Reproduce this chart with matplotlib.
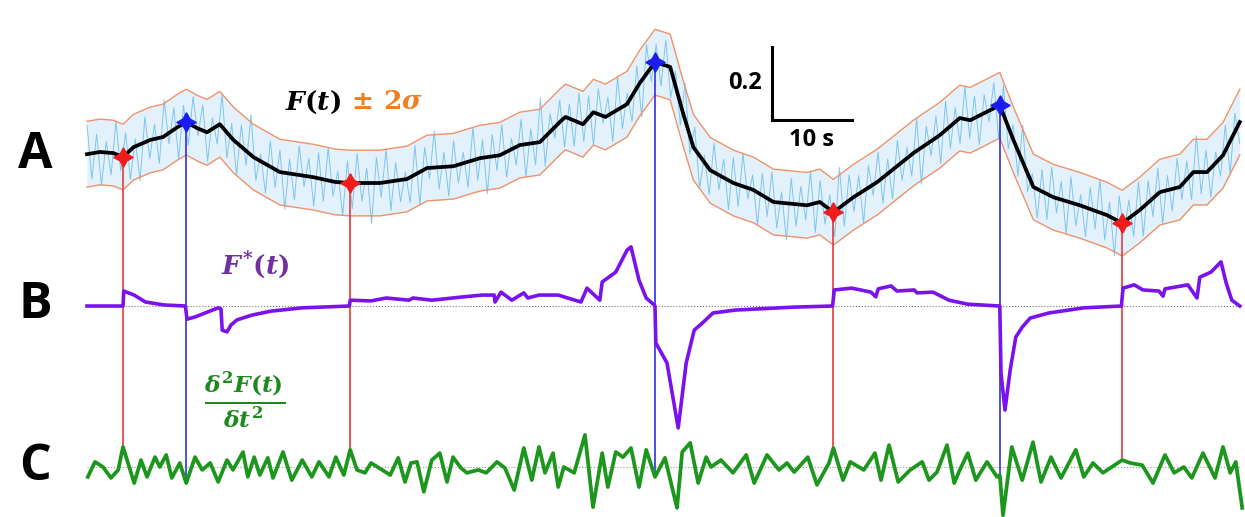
import numpy as np
import matplotlib
matplotlib.use('Agg')
import matplotlib.pyplot as plt

plt.rcParams['mathtext.fontset'] = 'custom'
plt.rcParams['mathtext.it'] = 'DejaVu Serif:italic:bold'
plt.rcParams['mathtext.rm'] = 'DejaVu Serif:bold'
plt.rcParams['mathtext.bf'] = 'DejaVu Serif:bold'

# A: smoothed fluorescence F(t), time in s
t_F = [0.0, 1.6, 3.3, 4.5, 5.8, 7.9, 9.5, 11.3, 12.4, 13.8, 15.0, 16.6, 18.3, 20.8,
       24.1, 28.3, 31.0, 32.9, 36.6, 40.0, 42.5, 45.8, 49.1, 51.6, 54.1, 56.6, 59.1,
       59.8, 62.0, 63.3, 64.8, 67.5, 69.1, 71.0, 72.9, 74.5, 75.8, 77.9, 80.8, 83.3,
       85.8, 90.0, 91.6, 93.3, 95.8, 98.8, 103.3, 106.6, 109.1, 110.4, 114.1, 115.8,
       118.3, 120.8, 124.1, 127.5, 129.4, 131.6, 134.1, 136.6, 138.3, 140.0, 142.0, 144.1]
F = [0.208, 0.214, 0.211, 0.200, 0.227, 0.247, 0.255, 0.282, 0.296, 0.279, 0.268, 0.290,
     0.247, 0.200, 0.159, 0.145, 0.132, 0.129, 0.129, 0.140, 0.170, 0.175, 0.197, 0.205,
     0.233, 0.241, 0.296, 0.310, 0.290, 0.323, 0.310, 0.345, 0.403, 0.460, 0.447, 0.321,
     0.227, 0.164, 0.129, 0.110, 0.077, 0.068, 0.077, 0.049, 0.090, 0.132, 0.211, 0.260,
     0.307, 0.301, 0.342, 0.247, 0.118, 0.090, 0.068, 0.041, 0.019, 0.055, 0.104, 0.118,
     0.159, 0.159, 0.205, 0.296]
two_sigma = 0.09

# raw-signal scatter around F(t)
raw_noise = [
    0.08, -0.07, 0.05, -0.09, 0.03, -0.06, 0.09, -0.04, 0.06, -0.08, 0.02, -0.10, 0.07, -0.05, 0.04, -0.07, 0.10, -0.03, 0.06, -0.09,
    0.05, -0.06, 0.08, -0.02, 0.07, -0.08, 0.03, -0.05, 0.09, -0.07, 0.04, -0.09, 0.06, -0.04, 0.11, -0.06, 0.02, -0.08, 0.07, -0.05,
    0.06, -0.10, 0.04, -0.07, 0.08, -0.03, 0.05, -0.08, 0.07, -0.06, 0.09, -0.04, 0.03, -0.09, 0.06, -0.07, 0.08, -0.05, 0.04, -0.11,
    0.07, -0.04, 0.09, -0.08, 0.05, -0.06, 0.02, -0.07, 0.08, -0.09, 0.06, -0.03, 0.10, -0.06, 0.04, -0.08, 0.07, -0.05, 0.03, -0.07,
    0.09, -0.06, 0.05, -0.10, 0.06, -0.04, 0.08, -0.07, 0.03, -0.05, 0.07, -0.09, 0.04, -0.06, 0.12, -0.08, 0.05, -0.03, 0.06, -0.08,
    0.04, -0.07, 0.08, -0.05, 0.06, -0.09, 0.07, -0.02, 0.05, -0.08, 0.09, -0.06, 0.03, -0.07, 0.06, -0.10, 0.08, -0.04, 0.05, -0.06,
    0.07, -0.08, 0.04, -0.06, 0.10, -0.05, 0.06, -0.09, 0.02, -0.07, 0.08, -0.04, 0.05, -0.08, 0.07, -0.06, 0.09, -0.03, 0.04, -0.09,
    0.06, -0.05, 0.08, -0.07, 0.03, -0.10, 0.07, -0.06, 0.05, -0.04, 0.09, -0.08, 0.06, -0.05, 0.04, -0.07, 0.11, -0.06, 0.07, -0.04,
    0.05, -0.09, 0.06, -0.03, 0.08, -0.07, 0.04, -0.08, 0.07, -0.05, 0.03, -0.06, 0.09, -0.10, 0.05, -0.04, 0.06, -0.08, 0.08, -0.06,
    0.04, -0.07, 0.09, -0.05, 0.06, -0.08, 0.05, -0.03, 0.07, -0.09, 0.08, -0.06, 0.04, -0.07, 0.10, -0.05, 0.03, -0.08, 0.06, -0.07,
    0.08, -0.04, 0.05, -0.09, 0.07, -0.06, 0.03, -0.08, 0.06, -0.05, 0.09, -0.07, 0.04, -0.10, 0.07, -0.03, 0.05, -0.06, 0.08, -0.08,
    0.06, -0.05, 0.07, -0.09, 0.04, -0.06, 0.08, -0.04, 0.05, -0.07, 0.10, -0.06, 0.06, -0.08, 0.03, -0.05, 0.07, -0.09, 0.05, -0.06]

# B: F*(t)
t_B = [0.0, 4.5, 4.6, 5.9, 7.3, 9.6, 12.3, 12.5, 13.5, 16.4, 16.75, 16.9, 17.5, 18.0,
       18.75, 20.6, 23.0, 26.9, 32.8, 32.9, 35.5, 37.4, 40.25, 40.75, 43.1, 47.0, 49.4,
       50.9, 51.0, 51.75, 53.1, 54.6, 55.1, 56.5, 58.9, 61.75, 62.5, 64.1, 64.4, 66.1,
       67.5, 68.0, 69.0, 69.9, 70.9, 71.0, 71.1, 72.5, 73.9, 74.9, 75.9, 76.9, 78.25,
       81.1, 88.4, 93.2, 93.4, 95.6, 98.0, 98.6, 98.9, 100.5, 101.25, 103.4, 103.75,
       105.75, 107.75, 110.1, 114.1, 114.25, 114.75, 115.4, 116.1, 116.9, 117.9, 120.25,
       124.6, 129.3, 129.5, 130.9, 132.0, 134.0, 134.5, 134.75, 137.6, 138.75, 139.1,
       140.5, 141.75, 142.4, 143.1, 144.1]
F_star = [0.0, 0.0, 0.041, 0.030, 0.011, 0.003, 0.0, -0.036, -0.030, -0.005, -0.008,
          -0.066, -0.071, -0.052, -0.038, -0.025, -0.014, -0.005, 0.0, 0.016, 0.014, 0.022,
          0.016, 0.022, 0.016, 0.025, 0.030, 0.030, 0.011, 0.038, 0.016, 0.036, 0.022, 0.030,
          0.030, 0.011, 0.049, 0.016, 0.066, 0.093, 0.153, 0.162, 0.071, 0.022, 0.003, 0.0,
          -0.101, -0.156, -0.334, -0.156, -0.066, -0.047, -0.019, -0.011, -0.003, 0.0, 0.044,
          0.049, 0.038, 0.025, 0.047, 0.055, 0.041, 0.044, 0.036, 0.038, 0.016, 0.005, 0.0,
          -0.184, -0.285, -0.175, -0.085, -0.058, -0.033, -0.019, -0.005, 0.0, 0.049, 0.058,
          0.044, 0.041, 0.027, 0.047, 0.058, 0.022, 0.079, 0.093, 0.121, 0.063, 0.016, 0.0]

# C: second derivative of F(t)
t_C = [0.1, 1.0, 2.0, 3.0, 3.9, 4.5, 5.9, 6.75, 7.5, 8.5, 9.1, 9.9, 10.6, 11.6, 12.4,
       13.5, 14.4, 15.4, 16.4, 17.5, 18.25, 19.5, 20.1, 20.9, 21.6, 22.6, 23.25, 24.5,
       25.6, 26.9, 28.1, 29.0, 30.25, 31.1, 32.1, 32.9, 33.75, 34.75, 35.5, 36.9, 37.9,
       38.9, 39.75, 40.5, 41.25, 42.1, 43.1, 44.1, 45.0, 45.75, 46.75, 47.5, 48.9, 49.9,
       51.25, 52.25, 53.4, 54.6, 55.6, 56.5, 57.25, 58.25, 58.9, 59.6, 60.9, 62.25, 63.25,
       64.4, 65.1, 66.1, 67.0, 68.0, 69.0, 69.9, 71.0, 72.25, 73.75, 74.4, 75.4, 76.4,
       77.4, 78.0, 79.25, 80.75, 82.4, 83.4, 85.0, 86.5, 87.5, 88.4, 90.1, 91.25, 92.75,
       93.3, 94.5, 95.4, 97.1, 98.5, 99.25, 100.25, 101.4, 102.9, 104.4, 105.25, 106.25,
       107.5, 108.4, 109.1, 110.1, 111.1, 112.5, 113.75, 114.1, 114.5, 115.6, 116.9,
       118.25, 119.25, 120.5, 121.75, 123.6, 124.6, 125.75, 127.0, 129.4, 130.4, 131.9,
       133.25, 134.75, 135.9, 137.1, 138.1, 139.5, 141.0, 142.0, 142.9, 143.6, 144.4]
d2F = [-0.027, 0.014, 0.0, -0.030, -0.008, 0.055, -0.044, 0.019, -0.027, 0.027, 0.0,
       0.033, -0.030, 0.011, -0.044, 0.027, -0.008, 0.011, -0.041, 0.019, -0.008, 0.041,
       -0.027, 0.027, -0.022, 0.025, -0.030, 0.041, -0.036, 0.019, -0.027, 0.014, -0.027,
       0.027, -0.022, 0.047, -0.008, -0.016, 0.011, -0.008, -0.022, 0.025, -0.041, 0.011,
       0.014, -0.068, 0.019, 0.038, -0.041, 0.027, -0.003, -0.016, -0.008, -0.016, 0.014,
       -0.003, -0.063, 0.052, -0.036, 0.055, -0.016, 0.038, -0.055, 0.0, -0.016, 0.088,
       -0.110, 0.038, -0.055, 0.041, 0.027, 0.052, -0.055, 0.047, -0.027, 0.025, -0.112,
       0.041, 0.066, -0.044, 0.027, 0.0, 0.019, -0.016, 0.033, -0.044, 0.033, -0.008,
       0.011, -0.014, 0.027, -0.049, 0.011, 0.052, -0.036, 0.014, -0.008, 0.038, -0.036,
       0.060, -0.041, -0.008, 0.014, -0.036, -0.014, 0.060, -0.044, -0.008, 0.038, -0.036,
       0.014, -0.027, -0.022, -0.132, 0.055, -0.036, 0.068, -0.041, 0.027, -0.030, 0.047,
       -0.027, 0.011, -0.016, 0.019, 0.011, 0.005, -0.044, 0.033, -0.016, 0.0, -0.030,
       0.038, -0.030, 0.055, -0.016, 0.014, -0.112]

# detected events (s)
onsets = [4.5, 32.9, 93.3, 129.4]
peaks = [12.4, 71.0, 114.1]

# vertical placement of the three panels
off_A, off_B, off_C = 0.786, 0.578, 0.137

t_F = np.array(t_F)
F = np.array(F)
t_raw = np.linspace(t_F[0], t_F[-1], len(raw_noise))
raw = np.interp(t_raw, t_F, F) + np.array(raw_noise)

fig = plt.figure(figsize=(12.45, 5.17), dpi=100)
ax = fig.add_axes([0, 0, 1, 1])
ax.set_xlim(-10.875, 144.75)
ax.set_ylim(0, 1.4164)
ax.axis('off')

# panel A
ax.fill_between(t_F, off_A + F - two_sigma, off_A + F + two_sigma, color='#e2f1fb', lw=0, zorder=1)
ax.plot(t_raw, off_A + raw, color='#6dbdec', lw=0.7, alpha=0.85, zorder=2)
ax.plot(t_F, off_A + F + two_sigma, color='#f0926a', lw=1.0, zorder=3)
ax.plot(t_F, off_A + F - two_sigma, color='#f0926a', lw=1.0, zorder=3)
ax.plot(t_F, off_A + F, color='black', lw=2.7, zorder=4, solid_joinstyle='round')

# baselines for B and C
ax.plot([t_F[0], t_F[-1]], [off_B, off_B], color='#777777', lw=0.8, ls=':', zorder=2)
ax.plot([t_F[0], t_F[-1]], [off_C, off_C], color='#999999', lw=0.8, ls=':', zorder=2)

# event lines from A down to C
F_on = np.interp(onsets, t_F, F)
F_pk = np.interp(peaks, t_F, F)
ax.vlines(onsets, off_C + np.interp(onsets, t_C, d2F), off_A + F_on, color='#e83a3a', lw=1.2, zorder=3)
ax.vlines(peaks, off_C + np.interp(peaks, t_C, d2F), off_A + F_pk, color='#3030e0', lw=1.2, zorder=3)

ax.plot(t_B, off_B + np.array(F_star), color='#7a12ee', lw=2.6, zorder=5, solid_joinstyle='round')
ax.plot(t_C, off_C + np.array(d2F), color='#1d961d', lw=2.7, zorder=5, solid_joinstyle='round')

ax.plot(onsets, off_A + F_on, ls='none', marker=(4, 1, 0), ms=14, color='#f01c1c', zorder=6)
ax.plot(peaks, off_A + F_pk, ls='none', marker=(4, 1, 0), ms=14, color='#1c1cf0', zorder=6)

# scale bar: 10 s x 0.2
sb_t, sb_y = 85.6, 1.0877
ax.plot([sb_t, sb_t, sb_t + 10], [sb_y + 0.2, sb_y, sb_y], color='black', lw=2.2, solid_joinstyle='miter')
ax.text(sb_t - 1.2, sb_y + 0.1, '0.2', ha='right', va='center', fontsize=17, fontweight='bold', family='Open Sans')
ax.text(sb_t + 5, sb_y - 0.055, '10 s', ha='center', va='center', fontsize=17, fontweight='bold', family='Open Sans')

# panel letters
for lab, yy in [('A', off_A + 0.206), ('B', off_B + 0.003), ('C', off_C)]:
    ax.text(-6.5, yy, lab, ha='center', va='center', fontsize=36, fontweight='bold', family='Open Sans')

# curve labels
lab1 = ax.text(24.75, 1.137, r'$F(t)$', ha='left', va='center', fontsize=19, color='black')
ax.annotate(r'$\,\pm\,2\sigma$', xy=(1, 0.5), xycoords=lab1, ha='left', va='center',
            fontsize=19, color='#ef7d22')
ax.text(21.0, 0.690, r'$F^{*}(t)$', ha='center', va='center', fontsize=19, color='#7030a0')
ax.text(19.75, 0.3205, r'$\frac{\delta^2 F(t)}{\delta t^2}$', ha='center', va='center',
        fontsize=24, color='#1e8a1e')

fig.savefig('out.png', dpi=100)
